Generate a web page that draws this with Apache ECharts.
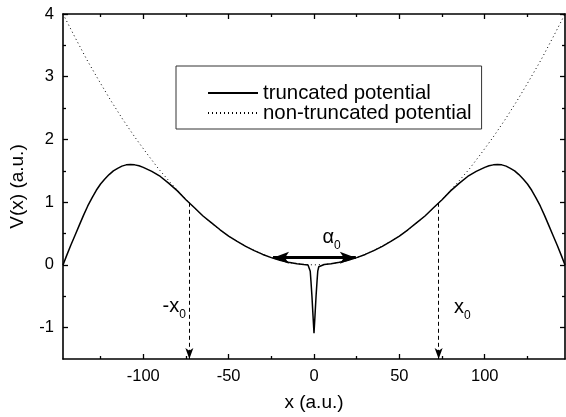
<!DOCTYPE html>
<html>
<head>
<meta charset="utf-8">
<script src="https://cdn.jsdelivr.net/npm/echarts@6/dist/echarts.min.js"></script>
<style>
html,body{margin:0;padding:0;background:#fff;}
#c{width:566px;height:417px;}
</style>
</head>
<body>
<div id="c"></div>
<script>
// ---- data ----
const truncX = [-147,-145,-142.5,-140,-137.5,-135,-132.5,-130,-127.5,-125,-122.5,-120,-117.5,-115,-112.5,-110,-107.5,-105,-102.5,-100,-95,-90,-85,-80,-75,-70,-65,-60,-55,-50,-45,-40,-35,-30,-25,-20,-15,-10,-6,-3.5,-2.8,-2.2,-1.8,-1.2,-0.6,0,
  0.6,1.2,1.8,2.2,2.8,3.5,6,10,15,20,25,30,35,40,45,50,55,60,65,70,75,80,85,90,95,100,102.5,105,107.5,110,112.5,115,117.5,120,122.5,125,127.5,130,132.5,135,137.5,140,142.5,145,147];
const truncV = [0,0.14,0.31,0.47,0.63,0.79,0.94,1.07,1.19,1.29,1.37,1.44,1.50,1.54,1.575,1.595,1.60,1.595,1.58,1.555,1.49,1.41,1.30,1.18,1.04,0.91,0.78,0.67,0.56,0.46,0.375,0.296,0.227,0.167,0.116,0.074,0.042,0.019,0.007,0.0,-0.03,-0.10,-0.25,-0.50,-0.80,-1.09,
  -0.80,-0.50,-0.25,-0.10,-0.03,0.0,0.007,0.019,0.042,0.074,0.116,0.167,0.227,0.296,0.375,0.46,0.56,0.67,0.78,0.91,1.04,1.18,1.30,1.41,1.49,1.555,1.58,1.595,1.60,1.595,1.575,1.54,1.50,1.44,1.37,1.29,1.19,1.07,0.94,0.79,0.63,0.47,0.31,0.14,0];
const fullX = [-147,-140,-133,-126,-119,-112,-105,-98,-91,-84,-77,-70,-63,-56,-49,-42,-35,-28,-21,-14,-7,0,7,14,21,28,35,42,49,56,63,70,77,84,91,98,105,112,119,126,133,140,147];
const fullV = [4.0,3.63,3.27,2.94,2.62,2.32,2.04,1.78,1.53,1.31,1.10,0.91,0.73,0.58,0.44,0.33,0.23,0.145,0.082,0.036,0.009,0,0.009,0.036,0.082,0.145,0.23,0.33,0.44,0.58,0.73,0.91,1.10,1.31,1.53,1.78,2.04,2.32,2.62,2.94,3.27,3.63,4.0];
const seriesNames = ['truncated potential','non-truncated potential'];
const xMajor = [-100,-50,0,50,100];
const xMinor = [-125,-75,-25,25,75,125];
const yMajor = [-1,0,1,2,3,4];
const yMinor = [-0.5,0.5,1.5,2.5,3.5];
const xRange = [-147,147];
const yRange = [-1.5,4];
const x0 = 73;          // position of the x0 markers
const x0Top = 0.99;     // curve value at x0
const alphaEnds = [-24, 24.5];
const alphaLevel = 0.115;

const FONT = 'Liberation Sans, Arial, Helvetica, sans-serif';
const pair = (xs, ys) => xs.map((x,i)=>[x, ys[i]]);

function xAx(pos, ticks, len, labels, line) {
  return {
    type:'value', min:xRange[0], max:xRange[1], position:pos,
    axisLine:{show:line, onZero:false, lineStyle:{color:'#000', width:1.6}},
    axisTick:{show:true, inside:true, length:len, customValues:ticks, lineStyle:{color:'#000', width:1.3}},
    axisLabel: labels ? {show:true, customValues:ticks, color:'#000', fontSize:16.5, fontFamily:FONT, margin:9} : {show:false},
    splitLine:{show:false}
  };
}
function yAx(pos, ticks, len, labels, line) {
  return {
    type:'value', min:yRange[0], max:yRange[1], position:pos,
    axisLine:{show:line, onZero:false, lineStyle:{color:'#000', width:1.6}},
    axisTick:{show:true, inside:true, length:len, customValues:ticks, lineStyle:{color:'#000', width:1.3}},
    axisLabel: labels ? {show:true, customValues:ticks, color:'#000', fontSize:16.5, fontFamily:FONT, margin:9} : {show:false},
    splitLine:{show:false}
  };
}
const xAxes = [xAx('bottom', xMajor, 5, true, true), xAx('bottom', xMinor, 3, false, false), xAx('top', xMajor, 5, false, true), xAx('top', xMinor, 3, false, false)];
Object.assign(xAxes[0], {name:'x (a.u.)', nameLocation:'middle', nameGap:34, nameTextStyle:{color:'#000', fontSize:19, fontFamily:FONT}});
const yAxes = [yAx('left', yMajor, 5, true, true), yAx('left', yMinor, 3, false, false), yAx('right', yMajor, 5, false, true), yAx('right', yMinor, 3, false, false)];
Object.assign(yAxes[0], {name:'V(x) (a.u.)', nameLocation:'middle', nameGap:36, nameTextStyle:{color:'#000', fontSize:19, fontFamily:FONT}});

const sub = {
  b:{fontSize:20, fontFamily:FONT, color:'#000', lineHeight:24, verticalAlign:'top'},
  s:{fontSize:12, fontFamily:FONT, color:'#000', lineHeight:12, verticalAlign:'bottom'}
};

const chart = echarts.init(document.getElementById('c'), null, {renderer:'canvas'});
chart.setOption({
  animation:false,
  backgroundColor:'#fff',
  textStyle:{fontFamily:FONT},
  grid:{left:62, right:1, top:14, bottom:55, containLabel:false},
  xAxis:xAxes,
  yAxis:yAxes,
  legend:{
    left:176, top:66, orient:'vertical', itemWidth:50, itemHeight:10, itemGap:0,
    padding:[17,10,6,31], borderColor:'#333', borderWidth:1,
    itemStyle:{color:'rgba(0,0,0,0)', borderWidth:0, opacity:0},
    textStyle:{fontSize:20.4, fontFamily:FONT, color:'#000', lineHeight:18},
    data:seriesNames
  },
  series:[
    {
      name:seriesNames[0], type:'line', xAxisIndex:0, yAxisIndex:0, z:3,
      data:pair(truncX, truncV), showSymbol:false, symbol:'none', smooth:false,
      lineStyle:{color:'#000', width:1.5}, itemStyle:{color:'#000'},
      markLine:{
        silent:true, animation:false, label:{show:false},
        data:[
          [{coord:[-x0, x0Top], symbol:'none', lineStyle:{type:[4,3], width:1, color:'#000'}},
           {coord:[-x0, yRange[0]], symbol:'arrow', symbolSize:[6,11]}],
          [{coord:[x0, x0Top], symbol:'none', lineStyle:{type:[4,3], width:1, color:'#000'}},
           {coord:[x0, yRange[0]], symbol:'arrow', symbolSize:[6,11]}],
          [{coord:[alphaEnds[0], alphaLevel], symbol:'arrow', symbolSize:[9,16], lineStyle:{type:'solid', width:3, color:'#000'}},
           {coord:[alphaEnds[1], alphaLevel], symbol:'arrow', symbolSize:[9,16]}]
        ]
      },
      markPoint:{
        silent:true, symbol:'circle', symbolSize:0, itemStyle:{color:'transparent'},
        data:[
          {coord:[-75, -0.69], label:{show:true, position:'inside', align:'right', verticalAlign:'middle', formatter:'{b|-x}{s|0}', rich:sub}},
          {coord:[82, -0.71], label:{show:true, position:'inside', align:'left', verticalAlign:'middle', formatter:'{b|x}{s|0}', rich:sub}},
          {coord:[5, 0.41], label:{show:true, position:'inside', align:'left', verticalAlign:'middle', formatter:'{b|α}{s|0}', rich:sub}}
        ]
      }
    },
    {
      name:seriesNames[1], type:'line', xAxisIndex:0, yAxisIndex:0, z:2,
      data:pair(fullX, fullV), showSymbol:false, symbol:'none', smooth:false,
      lineStyle:{color:'#000', width:1, type:[1,3]}, itemStyle:{color:'#000'}
    }
  ]
});
</script>
</body>
</html>
